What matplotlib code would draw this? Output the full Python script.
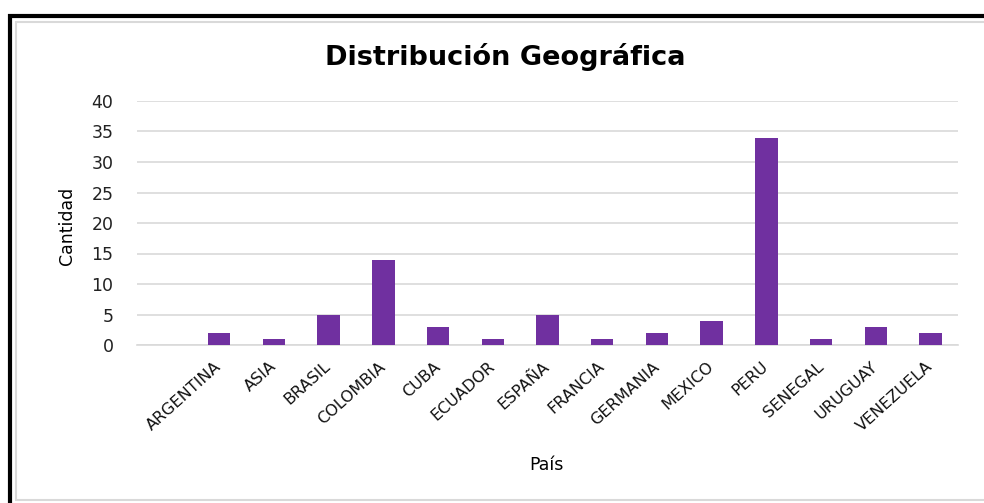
import matplotlib.pyplot as plt
from matplotlib.lines import Line2D

# datos
paises = ['', 'ARGENTINA', 'ASIA', 'BRASIL', 'COLOMBIA', 'CUBA', 'ECUADOR', 'ESPAÑA',
          'FRANCIA', 'GERMANIA', 'MEXICO', 'PERU', 'SENEGAL', 'URUGUAY', 'VENEZUELA']
cantidad = [0, 2, 1, 5, 14, 3, 1, 5, 1, 2, 4, 34, 1, 3, 2]
yticks = [0, 5, 10, 15, 20, 25, 30, 35, 40]

W, H = 984, 503
fig = plt.figure(figsize=(W / 100, H / 100), dpi=100)
ax = fig.add_axes([137 / W, 1 - 345 / H, 821 / W, 244 / H])

x = list(range(len(paises)))
ax.bar(x, cantidad, width=0.41, color='#7030a0', zorder=3)
ax.set_xlim(-0.5, len(paises) - 0.5)
ax.set_ylim(0, 40)
ax.set_yticks(yticks)
ax.set_yticklabels([str(v) for v in yticks], fontsize=12.5, family='DejaVu Sans', color='#222222')
ax.set_xticks(x)
ax.set_xticklabels(paises, rotation=42, ha='right', va='center', rotation_mode='anchor',
                   fontsize=11.5, family='DejaVu Sans', color='#111111')
ax.tick_params(axis='both', length=0)
ax.tick_params(axis='x', pad=14)
ax.tick_params(axis='y', pad=17)
ax.grid(axis='y', color='#d9d9d9', linewidth=1.2, zorder=0)
for s in ['top', 'right', 'left']:
    ax.spines[s].set_visible(False)
ax.spines['bottom'].set_color('#d9d9d9')
ax.spines['bottom'].set_linewidth(1.2)

fig.text(67 / W, 1 - 226 / H, 'Cantidad', fontsize=12.5, family='DejaVu Sans', rotation=90,
         ha='center', va='center')
fig.text(546 / W, 1 - 465 / H, 'País', fontsize=12.5, family='DejaVu Sans', ha='center', va='center')
fig.text(505 / W, 1 - 57 / H, 'Distribución Geográfica', fontsize=19.5, fontweight='bold',
         family='DejaVu Sans', ha='center', va='center')

# bordes
fig.add_artist(Line2D([10 / W, 10 / W], [0, 1 - 14 / H], color='black', linewidth=3,
                      solid_capstyle='butt', transform=fig.transFigure))
fig.add_artist(Line2D([8 / W, 1], [1 - 16 / H, 1 - 16 / H], color='black', linewidth=3,
                      solid_capstyle='butt', transform=fig.transFigure))
fig.add_artist(Line2D([16 / W, 16 / W], [1 - 500 / H, 1 - 21 / H], color='#d9d9d9', linewidth=1.5,
                      solid_capstyle='butt', transform=fig.transFigure))
fig.add_artist(Line2D([15 / W, 1], [1 - 22 / H, 1 - 22 / H], color='#d9d9d9', linewidth=1.5,
                      solid_capstyle='butt', transform=fig.transFigure))
fig.add_artist(Line2D([15 / W, 1], [1 - 500 / H, 1 - 500 / H], color='#d9d9d9', linewidth=1.5,
                      solid_capstyle='butt', transform=fig.transFigure))

fig.savefig('out.png', dpi=100)
